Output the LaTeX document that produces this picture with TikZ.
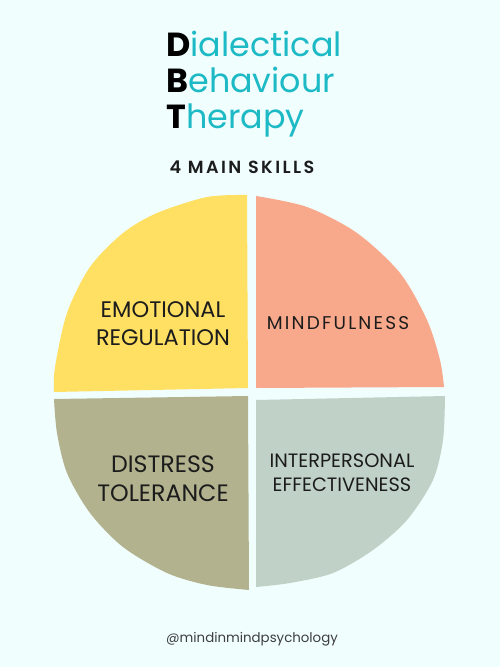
\documentclass[tikz,border=0pt]{standalone}
\usepackage{fontspec}
\setmainfont{Poppins}
\newfontfamily\spaced[LetterSpace=12]{Poppins}
\newfontfamily\boldspaced[LetterSpace=14]{Poppins SemiBold}
\newfontfamily\heavy{Poppins Bold}

\definecolor{bgcyan}{HTML}{F0FEFE}
\definecolor{teal}{HTML}{1DBAC6}
\definecolor{sunny}{HTML}{FFE063}
\definecolor{salmon}{HTML}{F8A98B}
\definecolor{sage}{HTML}{C0D1C7}
\definecolor{olive}{HTML}{B2B28F}
\definecolor{ink}{HTML}{1C1C1C}

\begin{document}
\begin{tikzpicture}[x=0.02cm, y=-0.02cm]
    % background
    \fill[bgcyan] (0,0) rectangle (500,667);
    \useasboundingbox (0,0) rectangle (500,667);

    % title
    \node[anchor=base west, inner sep=0] (t1) at (166,56) {\fontsize{19}{21}\selectfont{\heavy D}\textcolor{teal}{ialectical}};
    \node[anchor=base west, inner sep=0] (t2) at (166,92) {\fontsize{19}{21}\selectfont{\heavy B}\textcolor{teal}{ehaviour}};
    \node[anchor=base west, inner sep=0] (t3) at (166,128) {\fontsize{19}{21}\selectfont{\heavy T}\textcolor{teal}{herapy}};
    \node[anchor=base, inner sep=0, text=ink] (sub) at (242,173) {\fontsize{10}{12}\selectfont\boldspaced 4 MAIN SKILLS};

    % four quarters
    \fill[sunny] plot[smooth] coordinates {(247,195) (207,197) (157,213) (123,233) (90,267) (67,313) (55,367) (54,392)}
        -- (248,388) -- cycle;
    \fill[salmon] plot[smooth] coordinates {(256,196) (307,207) (357,233) (400,273) (427,320) (440,360) (444,387)}
        -- (256,388) -- cycle;
    \fill[olive] plot[smooth] coordinates {(54,399) (57,433) (67,473) (90,513) (123,547) (167,573) (207,585) (249,590)}
        -- (248,396) -- cycle;
    \fill[sage] plot[smooth] coordinates {(445,396) (443,440) (433,480) (407,520) (373,550) (333,573) (290,583) (256,587)}
        -- (256,400) -- cycle;

    % labels
    \node[align=center, text=ink, font=\fontsize{12.8}{16}\selectfont] (emo) at (163,324) {EMOTIONAL\\REGULATION};
    \node[text=ink, font=\fontsize{10.5}{13}\selectfont\spaced] (mind) at (338,323) {MINDFULNESS};
    \node[align=center, text=ink, font=\fontsize{13.5}{16.5}\selectfont] (dist) at (163,479) {DISTRESS\\TOLERANCE};
    \node[align=center, text=ink, font=\fontsize{11}{13.5}\selectfont] (inter) at (342,473) {INTERPERSONAL\\EFFECTIVENESS};

    \node[text=ink!85, font=\fontsize{7.6}{9}\selectfont] (tag) at (252,639) {@mindinmindpsychology};
\end{tikzpicture}
\end{document}
